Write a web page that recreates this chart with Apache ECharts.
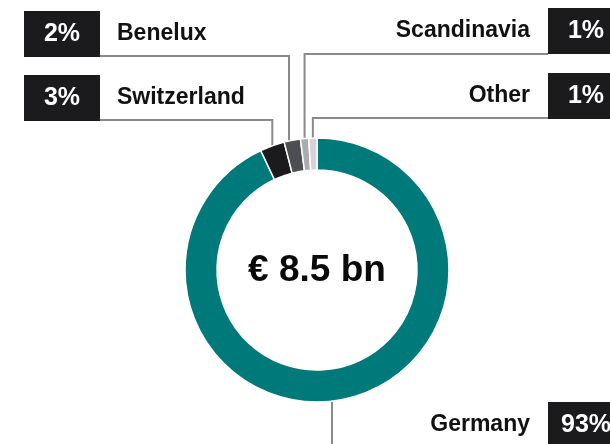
<!DOCTYPE html>
<html>
<head>
<meta charset="utf-8">
<script src="https://cdn.jsdelivr.net/npm/echarts@6/dist/echarts.min.js"></script>
<style>
html,body{margin:0;padding:0;background:#fff;}
#chart{width:610px;height:444px;}
</style>
</head>
<body>
<div id="chart"></div>
<script>
// Data
var categories = ['Germany', 'Switzerland', 'Benelux', 'Scandinavia', 'Other'];
var shares = [93, 3, 2, 1, 1];
var totalLabel = '€ 8.5 bn';

// Styles
var colors = ['#00797A', '#1B1B1D', '#4B4F53', '#A9ABAE', '#D2D4D6'];
var FONT = '"Liberation Sans", Arial, Helvetica, sans-serif';

// Label placement (layout only)
var labelPlacement = {
  'Germany':     {side: 'right', cy: 425, lineY: 447, anchorX: 332},
  'Switzerland': {side: 'left',  cy: 98,  lineY: 120},
  'Benelux':     {side: 'left',  cy: 34,  lineY: 56, anchorX: 289},
  'Scandinavia': {side: 'right', cy: 31,  lineY: 54},
  'Other':       {side: 'right', cy: 96,  lineY: 118}
};
var LEFT_X = 24, RIGHT_X = 624, BOX_W = 76, BOX_H = 46;
var CX = 317, CY = 270, R_IN = 100, R_OUT = 132;

var chart = echarts.init(document.getElementById('chart'), null, {renderer: 'canvas'});

var data = categories.map(function (c, i) {
  return {name: c, value: shares[i], itemStyle: {color: colors[i]}};
});

chart.setOption({
  animation: false,
  graphic: [{
    type: 'text',
    x: CX, y: 271,
    style: {
      text: totalLabel,
      font: 'bold 37px ' + FONT,
      fill: '#0a0a0a',
      align: 'center',
      verticalAlign: 'middle'
    },
    z: 10
  }],
  series: [{
    type: 'pie',
    center: [CX, CY],
    radius: [R_IN, R_OUT],
    startAngle: 90,
    clockwise: true,
    avoidLabelOverlap: false,
    itemStyle: {borderColor: '#ffffff', borderWidth: 1.5},
    data: data,
    label: {
      show: true,
      position: 'outside',
      formatter: function (p) {
        var pl = labelPlacement[p.name];
        if (pl.side === 'left') {
          return '{box|' + p.value + '%}{nameL|' + p.name + '}';
        }
        return '{nameR|' + p.name + '}{box|' + p.value + '%}';
      },
      rich: {
        box: {
          backgroundColor: '#1B1B1D',
          color: '#ffffff',
          fontFamily: FONT,
          fontWeight: 'bold',
          fontSize: 25,
          width: BOX_W,
          height: BOX_H,
          lineHeight: BOX_H,
          align: 'center'
        },
        nameL: {
          color: '#111111',
          fontFamily: FONT,
          fontWeight: 'bold',
          fontSize: 23,
          padding: [0, 0, 0, 17]
        },
        nameR: {
          color: '#111111',
          fontFamily: FONT,
          fontWeight: 'bold',
          fontSize: 23,
          padding: [0, 18, 0, 0]
        }
      }
    },
    labelLine: {
      show: true,
      length: 10,
      length2: 10,
      lineStyle: {color: '#8a8a8a', width: 2}
    },
    labelLayout: function (params) {
      var name = categories[params.dataIndex];
      var pl = labelPlacement[name];
      var p0 = params.labelLinePoints ? params.labelLinePoints[0] : [CX, CY - R_OUT];
      var px = p0[0], py = p0[1];
      if (pl.anchorX != null) {
        var dx = pl.anchorX - CX;
        var dy = Math.sqrt(Math.max(0, R_OUT * R_OUT - dx * dx));
        px = pl.anchorX;
        py = py > CY ? CY + dy : CY - dy;
      }
      var edgeX = pl.side === 'left' ? LEFT_X + BOX_W : RIGHT_X - BOX_W;
      return {
        x: pl.side === 'left' ? LEFT_X : RIGHT_X,
        y: pl.cy,
        align: pl.side === 'left' ? 'left' : 'right',
        verticalAlign: 'middle',
        labelLinePoints: [[px, py], [px, pl.lineY], [edgeX, pl.lineY]]
      };
    }
  }]
});
</script>
</body>
</html>
